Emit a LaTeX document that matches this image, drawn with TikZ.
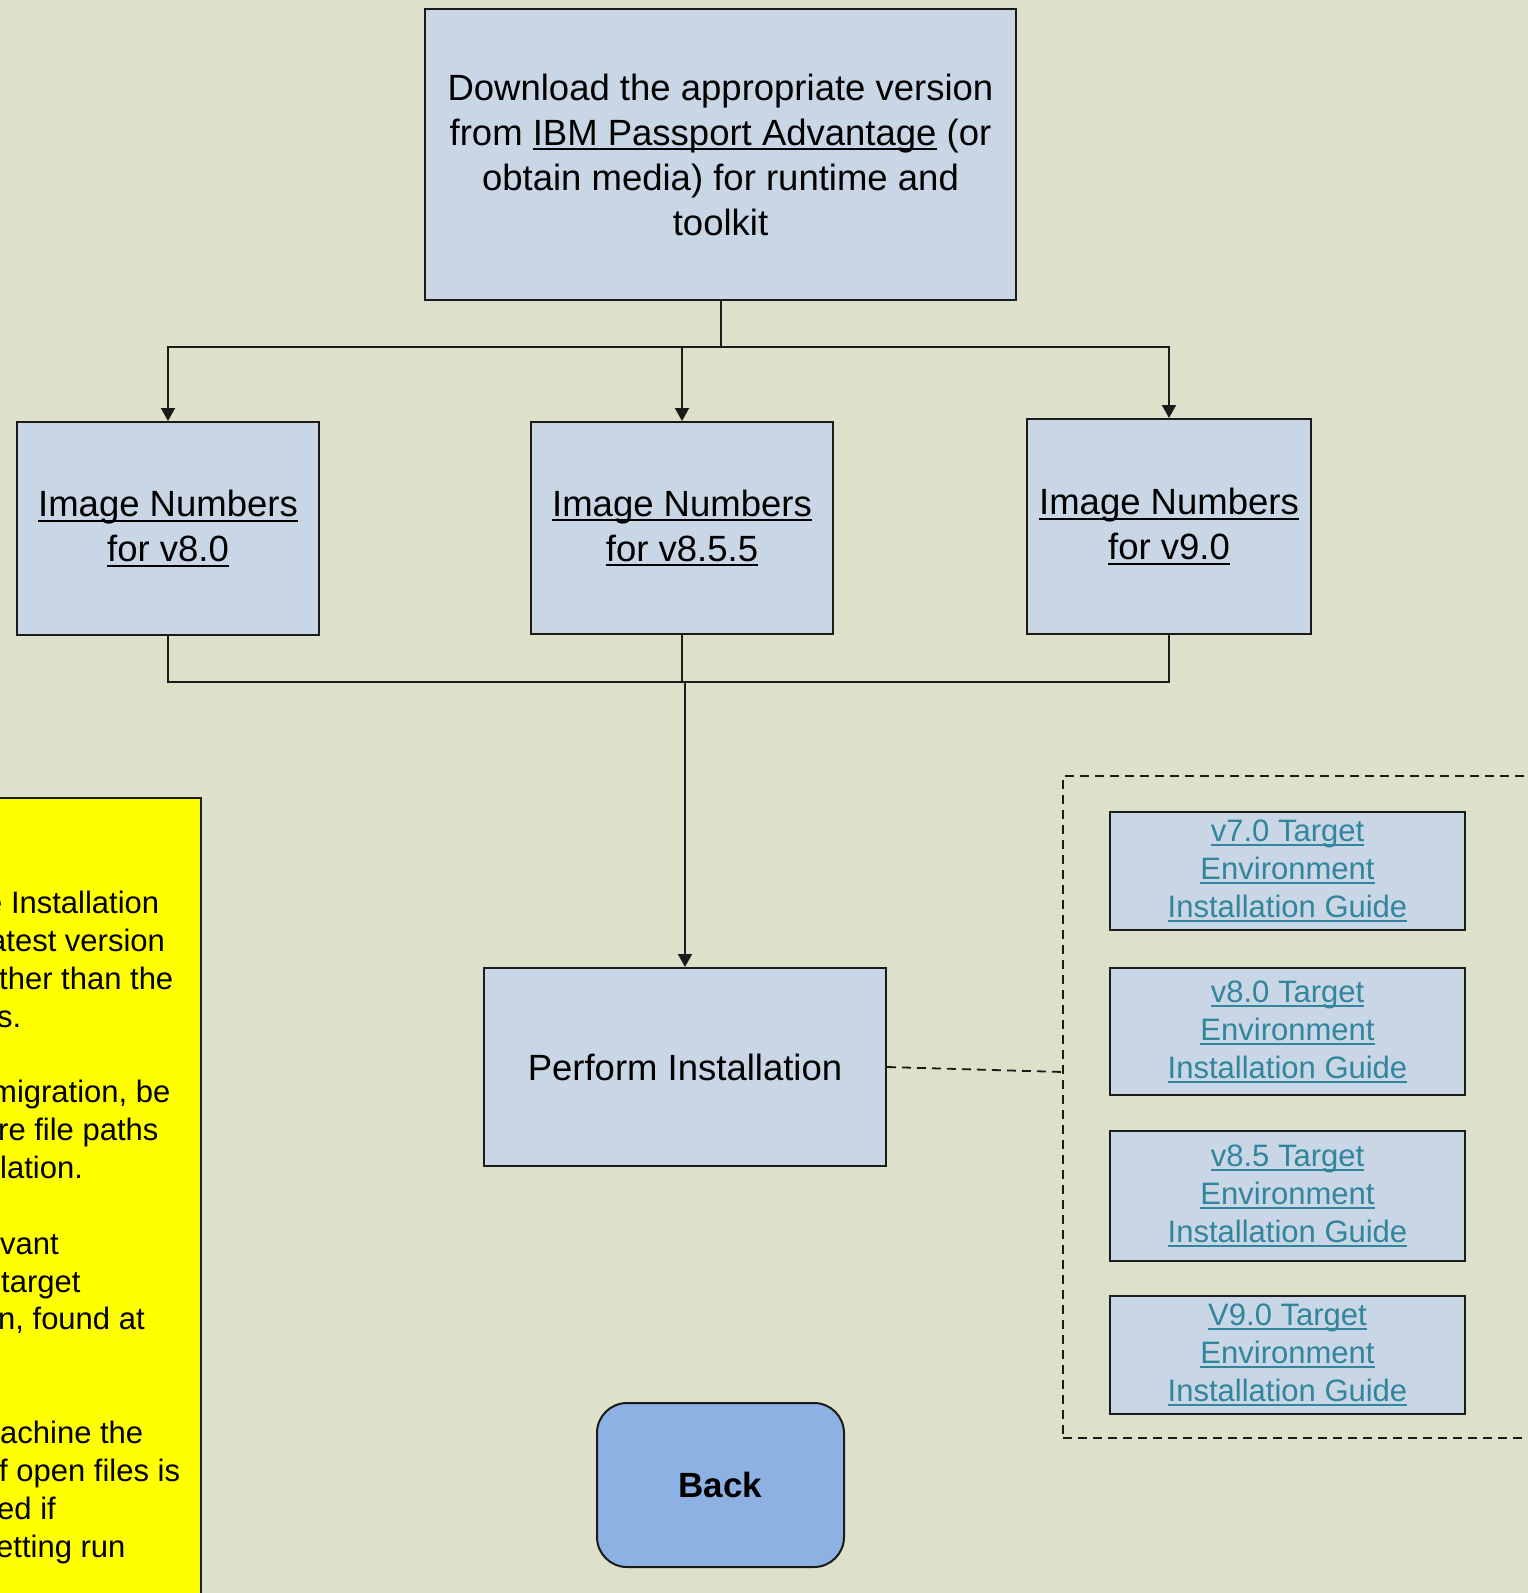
\documentclass[tikz,border=0pt]{standalone}
\usepackage{fontspec}
\setmainfont{Liberation Sans}
\newcommand\ulx[1]{\leavevmode\setbox0\hbox{#1}\rlap{\rule[-0.14em]{\wd0}{0.06em}}\box0\relax}
\usetikzlibrary{arrows.meta}
\definecolor{bgc}{HTML}{DDE1CA}
\definecolor{boxc}{HTML}{C9D6E6}
\definecolor{backc}{HTML}{8EB1E3}
\definecolor{linkc}{HTML}{31859C}
\definecolor{notec}{HTML}{FFFF00}
\definecolor{linec}{HTML}{1A1A1A}
\tikzset{
  box/.style={draw=linec, line width=2pt, fill=boxc, inner sep=0pt, align=center,
    font=\fontsize{36.5}{45}\selectfont},
  linkbox/.style={box, minimum width=355pt, text=linkc,
    font=\fontsize{31}{38}\selectfont},
  conn/.style={draw=linec, line width=2pt},
  arr/.style={conn, -{Triangle[length=13pt,width=14pt]}},
  dashline/.style={draw=linec, line width=1.8pt, dash pattern=on 9pt off 6pt},
  notetext/.style={anchor=base west, inner sep=0pt, font=\fontsize{31}{38}\selectfont}
}
\begin{document}
\begin{tikzpicture}[x=1pt,y=-1pt]
\useasboundingbox (0,0) rectangle (1528,1593);
\fill[bgc] (0,0) rectangle (1528,1593);
\begin{scope}
\clip (0,0) rectangle (1528,1593);
% top box
\node[box, minimum width=591pt, minimum height=291pt] (top) at (720.5,154.5)
  {Download the appropriate version\\from \ulx{IBM Passport Advantage} (or\\obtain media) for runtime and\\toolkit};
% image number boxes
\node[box, minimum width=302pt, minimum height=213pt] (im80) at (168,528.5)
  {\ulx{Image Numbers}\\\ulx{for v8.0}};
\node[box, minimum width=302pt, minimum height=212pt] (im855) at (682,528)
  {\ulx{Image Numbers}\\\ulx{for v8.5.5}};
\node[box, minimum width=284pt, minimum height=215pt] (im90) at (1169,526.5)
  {\ulx{Image Numbers}\\\ulx{for v9.0}};
% perform
\node[box, minimum width=402pt, minimum height=198pt] (perf) at (685,1067)
  {Perform Installation};
% connectors top
\coordinate (j1) at (720.5,347);
\draw[conn] (top.south) -- (j1);
\draw[arr] (j1) -| (im80.north);
\draw[arr] (j1) -| (im855.north);
\draw[arr] (j1) -| (im90.north);
% connectors bottom
\coordinate (j2) at (685,682);
\draw[conn] (im80.south) |- (j2);
\draw[conn] (im90.south) |- (j2);
\draw[conn] (im855.south) |- (j2);
\draw[arr] (j2) -- (perf.north);
% dashed group
\node[dashline, minimum width=477pt, minimum height=662pt, inner sep=0pt] (group) at (1301.5,1107) {};
\coordinate (gl) at (1063,1072);
\draw[dashline] (perf.east) -- (gl);
% link boxes
\node[linkbox, minimum height=118pt] (l70) at (1287.5,871)
  {\ulx{v7.0 Target}\\\ulx{Environment}\\\ulx{Installation Guide}};
\node[linkbox, minimum height=127pt] (l80) at (1287.5,1031.5)
  {\ulx{v8.0 Target}\\\ulx{Environment}\\\ulx{Installation Guide}};
\node[linkbox, minimum height=130pt] (l85) at (1287.5,1196)
  {\ulx{v8.5 Target}\\\ulx{Environment}\\\ulx{Installation Guide}};
\node[linkbox, minimum height=118pt] (l90) at (1287.5,1355)
  {\ulx{V9.0 Target}\\\ulx{Environment}\\\ulx{Installation Guide}};
% yellow note
\node[draw=linec, line width=2pt, fill=notec, minimum width=211pt, minimum height=812pt, inner sep=0pt] (note) at (95.5,1204) {};
\node[notetext] (n1) at (-15,913) {e Installation};
\node[notetext] (n2) at (-11,951) {atest version};
\node[notetext] (n3) at (-1,989) {ther than the};
\node[notetext] (n4) at (-3,1027) {s.};
\node[notetext] (n5) at (-9,1102) {migration, be};
\node[notetext] (n6) at (-2,1140) {re file paths};
\node[notetext] (n7) at (0,1178) {lation.};
\node[notetext] (n8) at (0,1254) {vant};
\node[notetext] (n9) at (1,1292) {target};
\node[notetext] (n10) at (-2,1329) {n, found at};
\node[notetext] (n11) at (0,1443) {achine the};
\node[notetext] (n12) at (-1,1481) {f open files is};
\node[notetext] (n13) at (-3,1519) {ed if};
\node[notetext] (n14) at (-4,1557) {etting run};
% back button
\node[draw=linec, line width=2pt, fill=backc, rounded corners=30pt, minimum width=247pt, minimum height=164pt, inner sep=0pt,
  font=\fontsize{35}{42}\selectfont\bfseries] (back) at (720.5,1485) {Back};
\end{scope}
\end{tikzpicture}
\end{document}
